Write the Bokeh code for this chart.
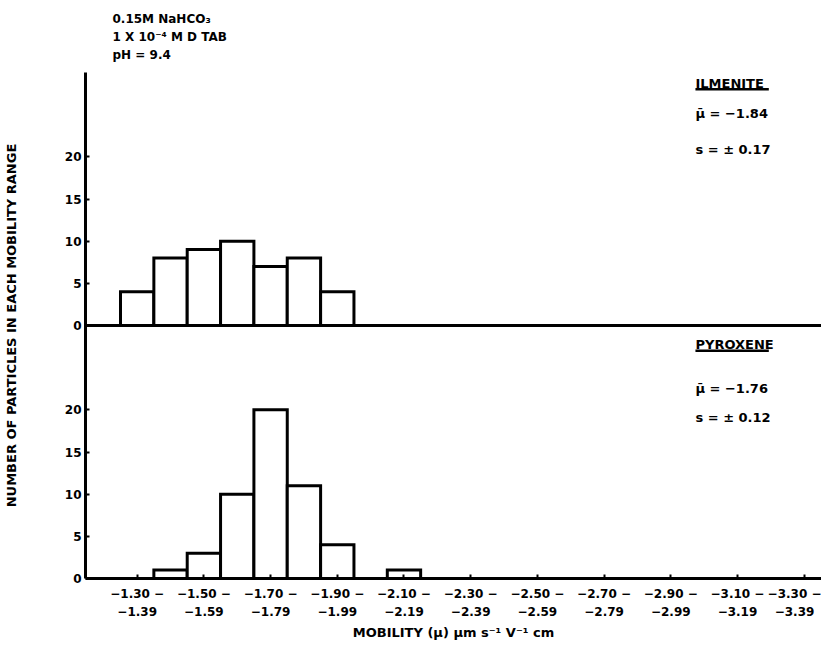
from bokeh.plotting import figure
from bokeh.models import Range1d, FixedTicker, Span, Label, Title, ColumnDataSource
from bokeh.embed import file_html
from bokeh.resources import INLINE

# ---- data ----
bin_edges = [-1.30, -1.40, -1.50, -1.60, -1.70, -1.80, -1.90, -2.00, -2.10]
bin_width = 0.10
ilmenite_counts = [4, 8, 9, 10, 7, 8, 4, 0, 0]
pyroxene_counts = [0, 1, 3, 10, 20, 11, 4, 0, 1]

tick_starts = [-1.30, -1.50, -1.70, -1.90, -2.10, -2.30, -2.50, -2.70, -2.90, -3.10, -3.30]
tick_upper = ["−1.30 −", "−1.50 −", "−1.70 −", "−1.90 −", "−2.10 −", "−2.30 −",
              "−2.50 −", "−2.70 −", "−2.90 −", "−3.10 −", "−3.30 −"]
tick_lower = ["−1.39", "−1.59", "−1.79", "−1.99", "−2.19", "−2.39",
              "−2.59", "−2.79", "−2.99", "−3.19", "−3.39"]
y_ticks = [0, 5, 10, 15, 20]

ilmenite_stats = ["ILMENITE", "μ̄  =  −1.84", "s  =  ± 0.17"]
pyroxene_stats = ["PYROXENE", "μ̄  =  −1.76", "s  =  ± 0.12"]
conditions = ["0.15M NaHCO₃", "1 X 10⁻⁴ M D TAB", "pH = 9.4"]

# ---- layout constants ----
PANEL = 30          # each panel spans 30 count units; upper panel sits on top
FONT = "DejaVu Sans"
INK = "black"

p = figure(width=821, height=643,
           x_range=Range1d(-1.195, -3.402), y_range=Range1d(0, 2 * PANEL),
           toolbar_location=None, output_backend="svg", title=None,
           min_border_left=0, min_border_right=0, min_border_top=0, min_border_bottom=0)
p.outline_line_color = None
p.xgrid.visible = False
p.ygrid.visible = False
p.background_fill_color = "white"

def bars(counts, base):
    left, right, top, bottom = [], [], [], []
    for e, c in zip(bin_edges, counts):
        if c > 0:
            left.append(e)
            right.append(round(e - bin_width, 2))
            bottom.append(base)
            top.append(base + c)
    return ColumnDataSource(dict(left=left, right=right, top=top, bottom=bottom))

for counts, base in [(ilmenite_counts, PANEL), (pyroxene_counts, 0)]:
    p.quad(left="left", right="right", top="top", bottom="bottom", source=bars(counts, base),
           fill_color="white", line_color=INK, line_width=3, line_join="miter")

p.add_layout(Span(location=PANEL, dimension="width", line_color=INK, line_width=3))

# x axis
centers = [round(t - bin_width / 2, 2) for t in tick_starts]
xa = p.xaxis[0]
xa.ticker = FixedTicker(ticks=centers)
xa.major_label_overrides = {c: f"{u}\n{l}" for c, u, l in zip(centers, tick_upper, tick_lower)}
xa.axis_line_width = 3
xa.axis_line_color = INK
xa.major_tick_in = 4
xa.major_tick_out = 0
xa.major_tick_line_width = 2
xa.major_tick_line_color = INK
xa.minor_tick_line_color = None
xa.major_label_text_font = FONT
xa.major_label_text_font_style = "bold"
xa.major_label_text_font_size = "12px"
xa.major_label_text_line_height = 1.35
xa.major_label_text_color = INK
xa.major_label_standoff = 8
xa.axis_label = "MOBILITY (μ) μm s⁻¹ V⁻¹ cm"
xa.axis_label_text_font = FONT
xa.axis_label_text_font_style = "bold"
xa.axis_label_text_font_size = "13px"
xa.axis_label_text_color = INK
xa.axis_label_standoff = 3

# y axis (two stacked panels)
ya = p.yaxis[0]
yt = y_ticks + [t + PANEL for t in y_ticks]
ya.ticker = FixedTicker(ticks=yt)
ya.major_label_overrides = {t + PANEL: str(t) for t in y_ticks}
ya.axis_line_width = 3
ya.axis_line_color = INK
ya.major_tick_in = 4
ya.major_tick_out = 0
ya.major_tick_line_width = 2
ya.major_tick_line_color = INK
ya.minor_tick_line_color = None
ya.major_label_text_font = FONT
ya.major_label_text_font_style = "bold"
ya.major_label_text_font_size = "12px"
ya.major_label_text_color = INK
ya.major_label_standoff = 4
ya.axis_label = "NUMBER OF PARTICLES IN EACH MOBILITY RANGE"
ya.axis_label_text_font = FONT
ya.axis_label_text_font_style = "bold"
ya.axis_label_text_font_size = "13px"
ya.axis_label_text_color = INK
ya.axis_label_standoff = 43

# experimental conditions, stacked above the plot
p.add_layout(Title(text="\n".join(conditions), align="left", offset=27, text_font=FONT,
                   text_color=INK, text_font_style="bold", text_font_size="12px",
                   text_line_height=1.3, standoff=20), "above")

# panel legends
LEG_X = -3.024
def legend(lines, ys, uline_y):
    for txt, y in zip(lines, ys):
        p.add_layout(Label(x=LEG_X, y=y, text=txt, text_font=FONT, text_font_style="bold",
                           text_color=INK, text_font_size="13px", text_baseline="middle",
                           text_align="left"))
    p.segment(x0=[LEG_X], x1=[LEG_X - 0.22], y0=[uline_y], y1=[uline_y],
              line_color=INK, line_width=2.5)

legend(ilmenite_stats, [PANEL + 28.75, PANEL + 25.1, PANEL + 20.9], PANEL + 28.0)
legend(pyroxene_stats, [27.8, 22.5, 19.1], 27.0)

open("out.html", "w").write(file_html(p, INLINE))
